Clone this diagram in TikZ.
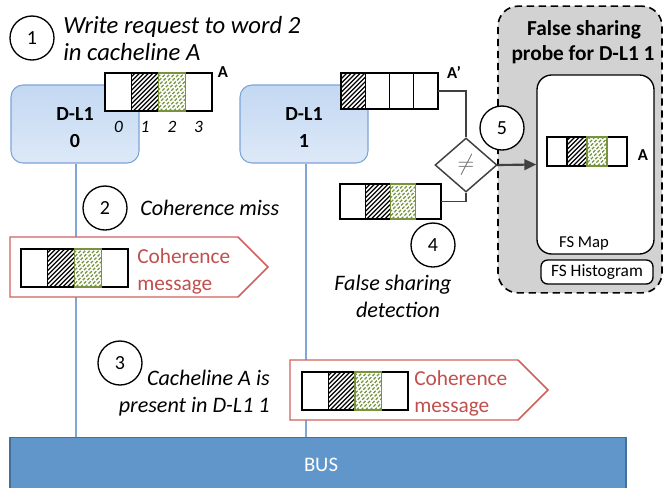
\documentclass[tikz,border=0pt]{standalone}
\usepackage{fontspec}
\setmainfont{Carlito}
\usetikzlibrary{arrows.meta,shapes.geometric}
\definecolor{dlborder}{HTML}{7BA3D5}
\definecolor{dltop}{HTML}{C3D8F2}
\definecolor{dlbot}{HTML}{DDE9F8}
\definecolor{busfill}{HTML}{6196CA}
\definecolor{busline}{HTML}{41719C}
\definecolor{wire}{HTML}{7EA6D8}
\definecolor{msgred}{HTML}{D0625D}
\definecolor{msgtext}{HTML}{C0504D}
\definecolor{hatchgreen}{HTML}{77933C}
\definecolor{probegray}{HTML}{D2D2D2}
\definecolor{conn}{HTML}{404040}

\newcommand\hatchcell[5]{%
  \begin{scope}
    \clip ({#1},{#2}) rectangle ({#3},{#4});
    \pgfmathsetmacro\hatchh{(#4)-(#2)}
    \foreach \s in {-48,-43.5,...,40}
      \draw[#5] ({#1+\s},{#4}) -- ++(\hatchh,-\hatchh);
  \end{scope}}

% name, x0, y0, x1, y1, black cell index, green cell index (-1 = none)
\newcommand\cacheline[7]{%
  \node[inner sep=0pt, outer sep=0pt, minimum width={((#4)-(#2))*0.75pt},
        minimum height={((#5)-(#3))*0.75pt}] (#1) at ({((#2)+(#4))/2},{((#3)+(#5))/2}) {};
  \pgfmathsetmacro\clw{((#4)-(#2))/4}
  \fill[white] (#2,#3) rectangle (#4,#5);
  \ifnum#6>-1 \hatchcell{#2+#6*\clw}{#3}{#2+(#6+1)*\clw}{#5}{black,line width=0.85pt}\fi
  \ifnum#7>-1 \hatchcell{#2+#7*\clw}{#3}{#2+(#7+1)*\clw}{#5}{hatchgreen,line width=0.9pt,dash pattern=on 2.4pt off 1.2pt}\fi
  \draw[line width=1pt] (#2,#3) rectangle (#4,#5);
  \foreach \k in {1,2,3} \draw[line width=1pt] ({#2+\k*\clw},{#3}) -- ({#2+\k*\clw},{#5});
  \ifnum#7>-1 \draw[hatchgreen,line width=1pt] ({#2+#7*\clw},{#3}) rectangle ({#2+(#7+1)*\clw},{#5});\fi
}

\begin{document}
\begin{tikzpicture}[x=0.75pt,y=-0.75pt,
  dl/.style={draw=dlborder, line width=0.8pt, rounded corners=9pt, top color=dltop, bottom color=dlbot,
    minimum width=96pt, minimum height=58.5pt, inner sep=0pt},
  dltext/.style={font=\fontsize{15}{18}\selectfont\bfseries, inner sep=0pt, anchor=base},
  num/.style={circle, draw, line width=1pt, fill=white, minimum size=33pt, inner sep=0pt,
    font=\fontsize{15}{18}\selectfont},
  lbl/.style={font=\fontsize{16.6}{20}\selectfont\itshape, inner sep=0pt},
  biglbl/.style={font=\fontsize{18.5}{22}\selectfont\itshape, inner sep=0pt, anchor=base west},
  msgtxt/.style={text=msgtext, font=\fontsize{16}{19}\selectfont, inner sep=0pt, anchor=base west},
  msg/.style={draw=msgred, line width=1.1pt, fill=white},
  wirestyle/.style={draw=wire, line width=1.5pt},
  small/.style={font=\fontsize{13}{15}\selectfont\itshape, inner sep=0pt},
  tag/.style={font=\fontsize{12.5}{15}\selectfont\bfseries, inner sep=0pt},
  connline/.style={draw=conn, line width=1.3pt},
]
\useasboundingbox (0,0) rectangle (664,487);

% bus
\node[fill=busfill, draw=busline, line width=1pt, minimum width=462pt, minimum height=39pt, inner sep=0pt] (bus) at (318,463.5) {};
\node[text=white, font=\fontsize{15.5}{18}\selectfont, inner sep=0pt] (bustext) at (321,465) {BUS};

% caches
\node[dl] (d0) at (75,124) {};
\node[dltext] (d0a) at (75,120) {D-L1};
\node[dltext] (d0b) at (75,147) {0};
\node[dl] (d1) at (304,124) {};
\node[dltext] (d1a) at (304,120) {D-L1};
\node[dltext] (d1b) at (304,147) {1};
\draw[wirestyle] (d0.south) ++(1,0) coordinate (w0) -- (w0 |- bus.north);
\draw[wirestyle] (d1.south) ++(2,0) coordinate (w1) -- (w1 |- bus.north);

% step 1
\node[num] (n1) at (32,38) {1};
\node[biglbl] (t1a) at (63,33) {Write request to word 2};
\node[biglbl] (t1b) at (63,60) {in cacheline A};
\cacheline{ca}{105}{73}{212}{111}{1}{2}
\node[tag] (la) at (223,72) {A};
\node[small] (c0) at (118.4,127) {0};
\node[small] (c1) at (145.1,127) {1};
\node[small] (c2) at (171.9,127) {2};
\node[small] (c3) at (198.6,127) {3};

% step 2
\node[num] (n2) at (105,208) {2};
\node[lbl, anchor=base west] (t2) at (140,215) {Coherence miss};
\draw[msg] (10,237) -- (238,237) -- (268,267) -- (238,297) -- (10,297) -- cycle;
\cacheline{m1}{21}{249}{128}{287}{1}{2}
\node[msgtxt] (m1a) at (137,263) {Coherence};
\node[msgtxt] (m1b) at (137,290) {message};

% step 3
\node[num] (n3) at (120,363) {3};
\node[lbl, anchor=base east] (t3a) at (270,385) {Cacheline A is};
\node[lbl, anchor=base east] (t3b) at (270,412) {present in D-L1 1};
\draw[msg] (290,360) -- (518,360) -- (548,390) -- (518,420) -- (290,420) -- cycle;
\cacheline{m2}{302}{372}{408}{410}{1}{2}
\node[msgtxt] (m2a) at (414,385) {Coherence};
\node[msgtxt] (m2b) at (414,412) {message};

% probe
\node[draw=black, fill=probegray, dash pattern=on 5.5pt off 3.5pt, line width=1.2pt, rounded corners=15pt,
      minimum width=123pt, minimum height=215pt, inner sep=0pt] (probe) at (580,149.5) {};
\node[font=\fontsize{16}{19}\selectfont\bfseries, inner sep=0pt, anchor=base] (pt1) at (584,35) {False sharing};
\node[font=\fontsize{16}{19}\selectfont\bfseries, inner sep=0pt, anchor=base] (pt2) at (583,60) {probe for D-L1 1};
\node[draw=black, fill=white, line width=1pt, rounded corners=11pt, minimum width=87.75pt,
      minimum height=134.25pt, inner sep=0pt] (map) at (595.5,164.5) {};
\node[font=\fontsize{12.5}{14}\selectfont, inner sep=0pt, anchor=base] (mapt) at (584,247) {FS Map};
\node[draw=black, fill=white, line width=1pt, rounded corners=5pt, minimum width=84pt,
      minimum height=18pt, inner sep=0pt, font=\fontsize{13}{15}\selectfont] (hist) at (597,272) {FS Histogram};
\cacheline{mc}{547}{137}{627}{166}{1}{2}
\node[tag] (lmc) at (643,155) {A};

% detection
\cacheline{ap}{341}{73}{438}{109}{0}{-1}
\node[tag] (lap) at (454,72) {A’};
\cacheline{cb}{340}{184}{441}{219}{1}{2}
\node[diamond, draw=conn, line width=1.1pt, fill=white, minimum width=46.5pt, minimum height=40.5pt,
      inner sep=0pt, text=conn!80, font=\fontsize{16}{16}\selectfont] (dia) at (466,165) {$\neq$};
\draw[connline] (ap.east) -| (dia.north);
\draw[connline] (cb.east) -| (dia.south);
\draw[draw=conn, line width=1.6pt, -{Triangle[length=9pt,width=8pt]}] (dia.east) -- (map.west);
\node[num] (n5) at (502,128) {5};
\node[num] (n4) at (433,245) {4};
\node[lbl, anchor=base] (t4a) at (393,290) {False sharing};
\node[lbl, anchor=base] (t4b) at (398,317) {detection};
\end{tikzpicture}
\end{document}
